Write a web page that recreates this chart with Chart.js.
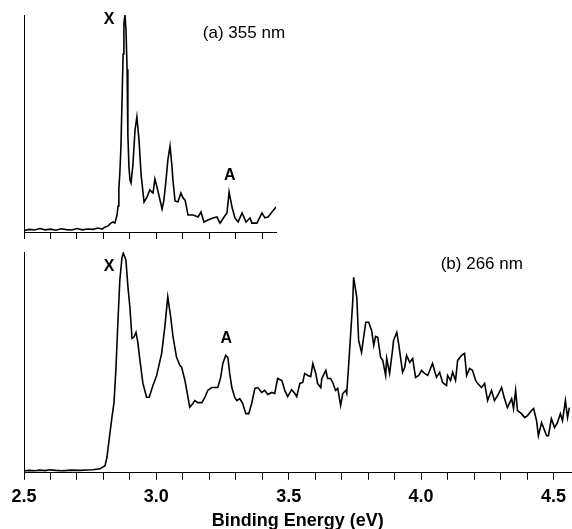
<!DOCTYPE html>
<html>
<head>
<meta charset="utf-8">
<script src="https://cdn.jsdelivr.net/npm/chart.js@4"></script>
<style>
  html, body { margin: 0; padding: 0; background: #fff; }
  #wrap { position: relative; width: 572px; height: 529px; overflow: hidden; background: #fff; }
  #wrap canvas { position: absolute; left: 0; }
</style>
</head>
<body>
<div id="wrap">
  <canvas id="top"></canvas>
  <canvas id="bottom"></canvas>
</div>
<script>
// ---- Data: (a) 355 nm ----
const energyA = [2.502,2.520,2.540,2.560,2.580,2.600,2.620,2.640,2.660,2.680,2.700,2.720,2.740,2.760,2.780,2.795,2.805,2.817,2.828,2.836,2.843,2.851,
  2.855,2.858,2.862,2.866,2.870,2.874,2.877,2.881,2.885,2.889,2.892,2.896,2.900,2.904,2.911,2.919,2.926,2.934,2.942,2.953,2.964,2.975,2.983,2.987,2.994,
  3.002,3.009,3.021,3.028,3.036,3.043,3.051,3.058,3.062,3.070,3.081,3.092,3.100,3.108,3.119,3.138,3.157,3.168,3.179,3.194,3.213,3.228,3.240,3.255,3.266,
  3.274,3.285,3.296,3.308,3.323,3.338,3.353,3.360,3.379,3.398,3.409,3.421,3.436,3.451];
const signalA = [0.7,1.2,0.9,1.6,1.0,1.3,0.8,1.5,1.1,0.9,1.6,1.0,1.4,1.2,1.8,1.3,2.2,2.8,4.1,4.6,4.1,7.8,
  12,20,28,40,61,82,96,100,93,75,45,30,24,22.6,30.9,47,53,42.4,26.3,13.8,16.1,19.4,18.4,18,24.4,
  20.7,17,10.6,14.7,24,33.2,39.6,30.9,24,14.3,13.8,18,15.7,14.7,7.8,7.8,6.9,9.2,4.6,5.5,6.5,6.9,4.1,6.9,8.8,
  18.4,11.5,6.5,4.6,8.8,4.6,6.5,4.1,4.1,8.8,6.5,6.9,9.2,11.5];

// ---- Data: (b) 266 nm ----
const energyB = [2.500,2.520,2.542,2.560,2.580,2.598,2.620,2.640,2.655,2.680,2.711,2.740,2.760,2.787,2.806,2.813,2.821,2.832,2.840,2.847,2.855,2.862,2.870,2.875,
  2.885,2.892,2.900,2.908,2.915,2.923,2.930,2.938,2.949,2.963,2.973,2.986,3.001,3.020,3.032,3.043,3.054,3.063,3.076,3.089,3.095,3.108,3.126,3.138,3.145,
  3.157,3.172,3.183,3.194,3.209,3.221,3.232,3.243,3.251,3.262,3.270,3.277,3.285,3.296,3.304,3.315,3.326,3.338,3.349,3.360,3.372,3.383,3.398,3.409,3.421,
  3.436,3.447,3.458,3.474,3.485,3.496,3.511,3.523,3.530,3.542,3.553,3.560,3.572,3.583,3.591,3.602,3.609,3.621,3.625,3.640,3.647,3.658,3.666,3.677,3.685,
  3.696,3.704,3.715,3.719,3.730,3.742,3.745,3.757,3.764,3.775,3.783,3.791,3.802,3.813,3.821,3.828,3.836,3.847,3.855,3.866,3.870,3.881,3.892,3.896,3.908,
  3.915,3.930,3.938,3.945,3.957,3.968,3.979,3.991,4.002,4.013,4.025,4.043,4.058,4.070,4.081,4.096,4.100,4.111,4.119,4.130,4.138,4.153,4.164,4.172,4.183,
  4.194,4.206,4.213,4.228,4.240,4.251,4.266,4.277,4.289,4.304,4.315,4.326,4.342,4.349,4.357,4.364,4.379,4.391,4.402,4.417,4.425,4.436,4.443,4.455,4.462,
  4.474,4.481,4.492,4.504,4.515,4.526,4.534,4.545,4.553,4.560];
const signalB = [0.9,1.1,0.9,1.2,1.0,1.4,1.1,0.9,1.0,1.2,1.1,1.3,1.4,1.8,3.2,6.8,14.5,25,31.8,46.4,69.1,87.3,97.3,99.5,
  96.4,85,75,60.9,61.4,63.6,59.1,50.9,40.6,34.2,34.2,39.2,44.1,54.1,66.1,79.7,70.6,61.5,52.4,48.6,47.9,41.8,29.7,31.4,32.7,
  31.8,31.8,34.1,37.3,38.6,38.6,38.6,43.2,49.5,53.2,52.3,45,38.6,34.1,32.7,33.6,31.4,26.8,26.8,31.4,38.2,38.6,36.4,37.3,35.5,
  36.4,35.9,42.7,41.8,37.3,34.5,37.7,35.9,34.5,40.5,40.9,45,44.1,43.6,49.5,45,40.5,38.6,42.7,46.4,42.7,42.7,40.9,37.3,38.2,
  30.5,35.9,37.3,35.9,55.5,78.2,88.6,79.5,60,54.5,61.4,68.2,68.2,64.5,57.7,61.8,61.4,52.3,50.9,44.1,51.8,45,55.5,60,63.6,
  58.6,45.5,47.7,53.2,50,51.8,43.2,44.1,46.4,45,44.1,49.5,43.2,45.5,40.9,39.5,44.1,41.8,45.5,41.8,50.9,53.2,54.1,44.1,47.3,
  46.4,41.8,40.5,38.6,40.5,32.7,37.3,32.7,35,38.6,33.6,29.5,33.6,29.1,37.3,28.2,26.8,25,25.9,28.2,29.1,23.6,16.8,22.7,20.5,
  16.8,16.8,24.5,20.5,22.7,26.8,23.6,32.7,25,29.5];

const majorTickLabels = ['2.5', '3.0', '3.5', '4.0', '4.5'];
const axisTitle = 'Binding Energy (eV)';

const FONT = '"Liberation Sans", Arial, Helvetica, sans-serif';
Chart.defaults.font.family = FONT;
Chart.defaults.color = '#000';

const textPlugin = {
  id: 'panelText',
  afterDatasetsDraw(chart, args, opts) {
    const ctx = chart.ctx;
    const xs = chart.scales.x, ys = chart.scales.y;
    ctx.save();
    ctx.fillStyle = '#000';
    ctx.textBaseline = 'middle';
    (opts.items || []).forEach(it => {
      ctx.font = (it.bold ? 'bold ' : '') + it.size + 'px ' + FONT;
      ctx.textAlign = it.align || 'center';
      ctx.fillText(it.text, xs.getPixelForValue(it.x), ys.getPixelForValue(it.y));
    });
    ctx.restore();
  }
};

function toPoints(xs, ys) { return xs.map((x, i) => ({ x: x, y: ys[i] })); }

function setupCanvas(id, top, h) {
  const c = document.getElementById(id);
  c.style.top = top + 'px';
  c.style.width = '572px';
  c.style.height = h + 'px';
  c.width = 572; c.height = h;
  return c;
}

const lineDs = (pts) => ({
  data: pts, borderColor: '#000', borderWidth: 1.6, pointRadius: 0, tension: 0, fill: false
});

// Top panel (a)
new Chart(setupCanvas('top', 0, 245), {
  type: 'line',
  data: { datasets: [lineDs(toPoints(energyA, signalA))] },
  options: {
    responsive: false, animation: false,
    layout: { padding: { left: 24, right: 296, top: 15, bottom: 6 } },
    plugins: {
      legend: { display: false }, tooltip: { enabled: false },
      panelText: { items: [
        { text: 'X', x: 2.821, y: 97.7, size: 16, bold: true },
        { text: '(a) 355 nm', x: 3.175, y: 91.7, size: 17, align: 'left' },
        { text: 'A', x: 3.277, y: 25.8, size: 16, bold: true }
      ] }
    },
    scales: {
      x: {
        type: 'linear', min: 2.5, max: 3.451,
        ticks: { stepSize: 0.1, display: false, autoSkip: false, includeBounds: false },
        grid: { display: true, drawOnChartArea: false, drawTicks: true, tickLength: 7, color: '#000', lineWidth: 1 },
        border: { display: true, color: '#000', width: 1 }
      },
      y: {
        type: 'linear', min: 0, max: 100,
        ticks: { display: false },
        grid: { display: false, drawTicks: false },
        border: { display: true, color: '#000', width: 1 }
      }
    }
  },
  plugins: [textPlugin]
});

// Bottom panel (b)
new Chart(setupCanvas('bottom', 245, 290), {
  type: 'line',
  data: { datasets: [lineDs(toPoints(energyB, signalB))] },
  options: {
    responsive: false, animation: false,
    layout: { padding: { left: 24, right: 0, top: 7, bottom: 3 } },
    plugins: {
      legend: { display: false }, tooltip: { enabled: false },
      panelText: { items: [
        { text: 'X', x: 2.821, y: 93.6, size: 16, bold: true },
        { text: 'A', x: 3.264, y: 60.9, size: 16, bold: true },
        { text: '(b) 266 nm', x: 4.074, y: 94.5, size: 17, align: 'left' }
      ] }
    },
    scales: {
      x: {
        type: 'linear', min: 2.5, max: 4.568,
        ticks: {
          stepSize: 0.1, autoSkip: false, includeBounds: false, maxRotation: 0, padding: 6,
          font: { size: 18, weight: 'bold' }, color: '#000',
          callback: (v) => {
            const lbl = Number(v).toFixed(1);
            return majorTickLabels.includes(lbl) && Math.abs(v * 2 - Math.round(v * 2)) < 1e-6 ? lbl : '';
          }
        },
        grid: { display: true, drawOnChartArea: false, drawTicks: true, tickLength: 7, color: '#000', lineWidth: 1 },
        border: { display: true, color: '#000', width: 1 },
        title: { display: true, text: axisTitle, font: { size: 18, weight: 'bold' }, color: '#000', padding: { top: -3, bottom: 0 } }
      },
      y: {
        type: 'linear', min: 0, max: 100,
        ticks: { display: false },
        grid: { display: false, drawTicks: false },
        border: { display: true, color: '#000', width: 1 }
      }
    }
  },
  plugins: [textPlugin]
});
</script>
</body>
</html>
